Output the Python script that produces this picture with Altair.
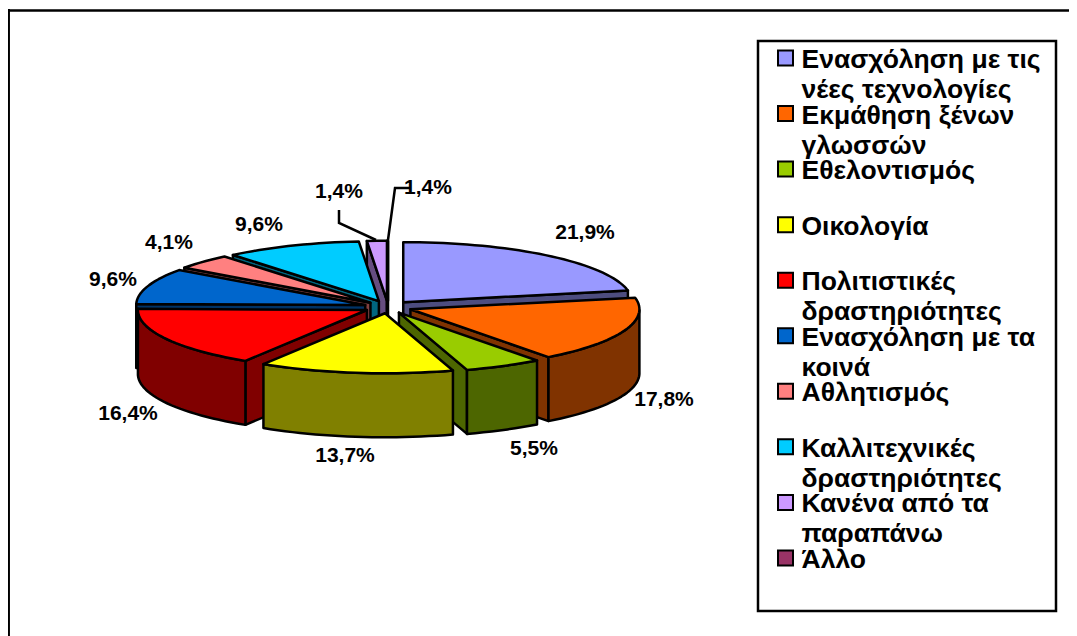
import math
import altair as alt
import pandas as pd

# ---- chart values -------------------------------------------------------
names = [
    "Ενασχόληση με τις\nνέες τεχνολογίες",
    "Εκμάθηση ξένων\nγλωσσών",
    "Εθελοντισμός",
    "Οικολογία",
    "Πολιτιστικές\nδραστηριότητες",
    "Ενασχόληση με τα\nκοινά",
    "Αθλητισμός",
    "Καλλιτεχνικές\nδραστηριότητες",
    "Κανένα από τα\nπαραπάνω",
    "Άλλο",
]
shares = [21.9, 17.8, 5.5, 13.7, 16.4, 9.6, 4.1, 9.6, 1.4, 0.0]
labels = ["21,9%", "17,8%", "5,5%", "13,7%", "16,4%", "9,6%", "4,1%", "9,6%", "1,4%", "1,4%"]
top_colors = ["#9999FF", "#FF6600", "#99CC00", "#FFFF00", "#FF0000",
              "#0066CC", "#FF8080", "#00CCFF", "#CC99FF", "#993366"]
wall_colors = ["#4D4D80", "#803300", "#4D6600", "#808000", "#800000",
               "#003366", "#804040", "#006680", "#664D80", "#4D1A33"]

# ---- layout -------------------------------------------------------------
W, H = 1061, 628
CX, CY = 380, 299        # pie centre within the plot area
RX, RY = 229, 60         # ellipse radii of the top face
DEPTH = 64               # height of the walls
EXPLODE = 24             # how far slices are pulled out
FONT = "Liberation Sans"
label_xy = [(577, 225), (656, 392), (526, 441), (337, 448), (120, 406),
            (105, 272), (161, 235), (251, 217), (331, 184), (420, 180)]
px_x = alt.Scale(domain=[0, W], range=[0, W])
px_y = alt.Scale(domain=[0, H], range=[0, H])


def feature(points, fill):
    ring = [[round(x, 2), round(y, 2)] for x, y in points]
    ring.append(ring[0])
    return {"type": "Feature", "properties": {"fill": fill},
            "geometry": {"type": "Polygon", "coordinates": [ring]}}


# ---- pie geometry, derived from the shares -------------------------------
slices = []
start = 0.0
for i, share in enumerate(shares):
    sweep = share * 3.6
    slices.append((i, start, start + sweep))
    start += sweep


def cut_key(s):
    mid = math.radians((s[1] + s[2]) / 2)
    return -math.cos(mid)


features = []
for i, a0, a1 in sorted(slices, key=cut_key):
    mid = math.radians((a0 + a1) / 2)
    tx = EXPLODE * math.sin(mid)
    ty = -EXPLODE * RY / RX * math.cos(mid)
    n = max(1, int((a1 - a0) / 2))
    arc = []
    for k in range(n + 1):
        a = math.radians(a0 + (a1 - a0) * k / n)
        arc.append((tx + RX * math.sin(a), ty - RY * math.cos(a)))
    tip = (tx, ty)
    down = lambda p: (p[0], p[1] + DEPTH)
    # front-facing cut walls only, then the outer wall, then the top face
    if math.sin(math.radians(a0)) < 0:
        features.append(feature([tip, arc[0], down(arc[0]), down(tip)], wall_colors[i]))
    if math.sin(math.radians(a1)) > 0:
        features.append(feature([tip, arc[-1], down(arc[-1]), down(tip)], wall_colors[i]))
    visible = [p for p, k in zip(arc, range(len(arc)))
               if math.cos(math.radians(a0 + (a1 - a0) * k / n)) <= 0.02]
    if len(visible) >= 2:
        features.append(feature(visible + [down(p) for p in reversed(visible)], wall_colors[i]))
    features.append(feature([tip] + arc, top_colors[i]))

pie = (
    alt.Chart(alt.Data(values=features))
    .mark_geoshape(stroke="black", strokeWidth=2.5, strokeJoin="round")
    .encode(fill=alt.Fill("properties.fill:N", scale=None))
    .project(type="identity", scale=1, translate=[CX, CY])
)

# ---- slice labels and leader lines ---------------------------------------
label_df = pd.DataFrame({"label": labels,
                         "x": [p[0] for p in label_xy],
                         "y": [p[1] for p in label_xy]})
label_layer = (
    alt.Chart(label_df)
    .mark_text(font=FONT, fontWeight="bold", fontSize=21, color="black", baseline="middle", align="center")
    .encode(x=alt.X("x:Q", scale=px_x, axis=None), y=alt.Y("y:Q", scale=px_y, axis=None), text="label:N")
)

leader_df = pd.DataFrame({
    "id": [0, 0, 0, 1, 1, 1],
    "o": [0, 1, 2, 0, 1, 2],
    "x": [331, 331, 368, 402, 387, 380],
    "y": [202, 215, 232, 180, 180, 232],
})
leaders = (
    alt.Chart(leader_df)
    .mark_line(color="black", strokeWidth=2.5)
    .encode(x=alt.X("x:Q", scale=px_x, axis=None), y=alt.Y("y:Q", scale=px_y, axis=None),
            detail="id:N", order="o:Q")
)

# ---- legend --------------------------------------------------------------
legend_df = pd.DataFrame({
    "name": names,
    "fill": top_colors,
    "x": [777.5] * len(names),
    "y": [50 + 55.55 * i for i in range(len(names))],
})
legend_marks = (
    alt.Chart(legend_df)
    .mark_point(shape="square", filled=True, stroke="black", strokeWidth=2, size=225, opacity=1)
    .encode(x=alt.X("x:Q", scale=px_x, axis=None), y=alt.Y("y:Q", scale=px_y, axis=None),
            fill=alt.Fill("fill:N", scale=None))
)
legend_text = (
    alt.Chart(legend_df)
    .mark_text(font=FONT, fontWeight="bold", fontSize=26.5, color="black", align="left",
               baseline="alphabetic", lineBreak="\n", lineHeight=30, dx=16, dy=10)
    .encode(x=alt.X("x:Q", scale=px_x, axis=None), y=alt.Y("y:Q", scale=px_y, axis=None), text="name:N")
)
legend_box = (
    alt.Chart(pd.DataFrame({"x": [750], "x2": [1048], "y": [33], "y2": [603]}))
    .mark_rect(fill="white", stroke="black", strokeWidth=2.5)
    .encode(x=alt.X("x:Q", scale=px_x, axis=None), x2="x2:Q",
            y=alt.Y("y:Q", scale=px_y, axis=None), y2="y2:Q")
)

# ---- outer frame (runs off the photographed page on the right and bottom) --
frame_top = (
    alt.Chart(pd.DataFrame({"x": [0], "x2": [W], "y": [2.4]}))
    .mark_rule(color="black", strokeWidth=2.5)
    .encode(x=alt.X("x:Q", scale=px_x, axis=None), x2="x2:Q", y=alt.Y("y:Q", scale=px_y, axis=None))
)
frame_left = (
    alt.Chart(pd.DataFrame({"x": [0.7], "y": [1], "y2": [H]}))
    .mark_rule(color="black", strokeWidth=2.5)
    .encode(x=alt.X("x:Q", scale=px_x, axis=None), y=alt.Y("y:Q", scale=px_y, axis=None), y2="y2:Q")
)

chart = (
    alt.layer(frame_top, frame_left, legend_box, pie, leaders, label_layer, legend_marks, legend_text)
    .properties(width=W, height=H, padding=0, autosize=alt.AutoSizeParams(type="none"), background="white")
    .configure_view(stroke=None)
)

chart.save("out.html", embed_options={"renderer": "svg", "actions": False})
